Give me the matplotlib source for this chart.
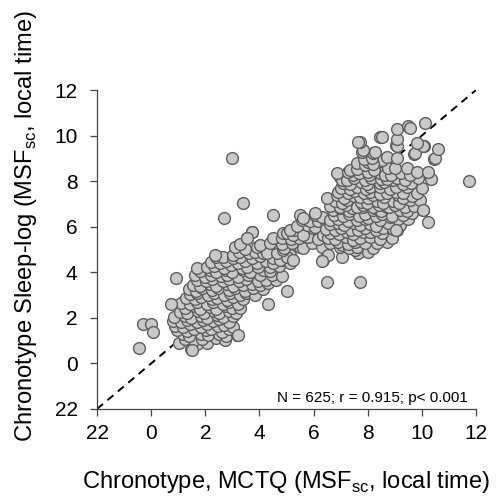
import matplotlib
matplotlib.use("Agg")
import matplotlib.pyplot as plt
import numpy as np

plt.rcParams["font.family"] = ["Liberation Sans", "DejaVu Sans"]
plt.rcParams["mathtext.fontset"] = "custom"
plt.rcParams["mathtext.rm"] = "Liberation Sans"

# (MCTQ chronotype, sleep-log chronotype), hours; 22 h shown as -2
lower_cluster = [
    (1.48, 0.62),
    (1.02, 0.88), (1.68, 0.84), (2.05, 0.90),
    (1.25, 1.08), (1.58, 1.01), (1.88, 1.09), (2.38, 1.12), (2.73, 1.02),
    (1.18, 1.27), (1.41, 1.22), (1.83, 1.31), (2.09, 1.23), (2.51, 1.29), (2.76, 1.20), (3.18, 1.26),
    (0.95, 1.47), (1.33, 1.41), (1.58, 1.52), (2.01, 1.45), (2.22, 1.50), (2.63, 1.40), (2.88, 1.51),
    (0.88, 1.66), (1.19, 1.60), (1.44, 1.71), (1.85, 1.62), (2.05, 1.73), (2.46, 1.65), (2.69, 1.69), (3.04, 1.59),
    (0.82, 1.86), (1.09, 1.80), (1.31, 1.91), (1.69, 1.81), (1.91, 1.89), (2.27, 1.85), (2.51, 1.93), (2.89, 1.82),
    (0.85, 2.04), (1.24, 2.10), (1.49, 2.00), (1.86, 2.09), (2.06, 2.01), (2.43, 2.11), (2.64, 2.02), (3.01, 2.08),
    (1.05, 2.27), (1.34, 2.21), (1.73, 2.30), (1.95, 2.20), (2.33, 2.29), (2.52, 2.22), (2.89, 2.31), (3.13, 2.21),
    (1.25, 2.44), (1.59, 2.50), (1.81, 2.41), (2.18, 2.49), (2.39, 2.40), (2.77, 2.51), (2.98, 2.43), (3.28, 2.42),
    (1.12, 2.66), (1.43, 2.60), (1.68, 2.70), (2.06, 2.61), (2.27, 2.69), (2.64, 2.60), (2.86, 2.70), (3.22, 2.63),
    (1.30, 2.86), (1.62, 2.81), (1.86, 2.90), (2.24, 2.82), (2.45, 2.89), (2.82, 2.80), (3.04, 2.90), (3.38, 2.84),
    (1.45, 3.04), (1.71, 3.10), (2.09, 3.01), (2.31, 3.09), (2.69, 3.00), (2.91, 3.10), (3.29, 3.02), (3.52, 3.09), (3.85, 3.02),
    (1.38, 3.26), (1.66, 3.20), (1.88, 3.29), (2.26, 3.21), (2.48, 3.30), (2.86, 3.22), (3.08, 3.29), (3.45, 3.20), (3.77, 3.30), (4.15, 3.26),
    (1.55, 3.46), (1.81, 3.40), (2.19, 3.49), (2.41, 3.41), (2.79, 3.50), (3.01, 3.42), (3.40, 3.44), (3.72, 3.49), (4.02, 3.44), (4.33, 3.52),
    (1.70, 3.66), (2.04, 3.60), (2.26, 3.69), (2.64, 3.61), (2.86, 3.70), (3.24, 3.62), (3.51, 3.69), (3.93, 3.60), (4.25, 3.68), (4.60, 3.64),
    (1.62, 3.86), (1.99, 3.81), (2.21, 3.90), (2.59, 3.82), (2.81, 3.89), (3.19, 3.81), (3.59, 3.88), (4.02, 3.88), (4.45, 3.88), (4.82, 3.85),
    (1.80, 4.05), (2.16, 4.10), (2.38, 4.01), (2.76, 4.09), (2.98, 4.02), (3.39, 4.10), (3.66, 4.01), (4.13, 4.09), (4.40, 4.04),
    (1.68, 4.20), (2.05, 4.24), (2.31, 4.29), (2.69, 4.20), (2.94, 4.30), (3.34, 4.21), (3.53, 4.24), (3.96, 4.24), (4.39, 4.24), (4.72, 4.27),
    (2.20, 4.46), (2.54, 4.41), (2.78, 4.50), (3.19, 4.42), (3.46, 4.49), (3.90, 4.39), (4.24, 4.48), (4.51, 4.41), (4.88, 4.54), (5.13, 4.39),
    (2.40, 4.66), (2.67, 4.68), (3.04, 4.62), (3.28, 4.69), (3.74, 4.61), (4.01, 4.70), (4.49, 4.62), (4.76, 4.54), (5.13, 4.76), (5.00, 4.68),
    (2.36, 4.76), (3.04, 4.76), (3.25, 4.88), (3.60, 4.84), (3.84, 4.90), (4.14, 4.83), (4.27, 4.83), (4.64, 4.83), (4.88, 4.98),
    (3.10, 5.12), (3.45, 5.04), (3.90, 5.12), (4.02, 5.20), (4.51, 5.27), (4.90, 5.06), (5.25, 4.54), (5.50, 5.12), (5.62, 5.05),
    (3.30, 5.25), (4.39, 5.27), (4.85, 5.22), (5.20, 5.28), (5.93, 5.27), (6.30, 5.12),
    (3.55, 5.52), (4.51, 5.49), (4.85, 5.52), (5.15, 5.46), (5.45, 5.50), (5.80, 5.53), (6.15, 5.47),
    (3.71, 5.77), (4.88, 5.71), (5.00, 5.71), (5.25, 5.63), (5.31, 5.85), (5.62, 5.63), (5.99, 5.93), (6.36, 5.63),
    (5.13, 5.85), (5.75, 6.07), (6.05, 6.00), (5.40, 6.02),
    (5.56, 6.29), (5.85, 6.25), (6.15, 6.27), (6.45, 6.22),
    (5.50, 6.51), (5.62, 6.37), (6.05, 6.51), (6.30, 6.44), (6.05, 6.59),
]

upper_cluster = [
    (6.36, 4.54), (6.55, 4.76), (6.31, 4.51),
    (7.04, 4.68), (7.65, 4.83), (7.53, 4.98), (8.02, 4.90),
    (6.61, 5.42), (6.98, 5.12), (7.04, 5.20), (7.30, 5.08), (7.59, 5.56), (7.60, 5.12), (8.20, 5.08),
    (6.60, 5.30), (6.91, 5.35), (7.28, 5.25), (7.53, 5.34), (7.89, 5.28), (8.33, 5.27), (8.70, 5.32),
    (6.55, 5.52), (6.81, 5.46), (7.19, 5.55), (7.47, 5.42), (7.71, 5.51), (8.08, 5.56), (8.44, 5.46), (8.90, 5.52),
    (6.60, 5.72), (6.94, 5.66), (7.22, 5.78), (7.46, 5.69), (7.84, 5.75), (8.08, 5.78), (8.52, 5.71), (9.07, 5.85),
    (6.45, 5.92), (6.79, 5.86), (7.01, 5.95), (7.39, 5.86), (7.65, 5.85), (7.91, 5.94), (8.29, 5.86), (8.56, 5.96), (8.95, 5.88),
    (6.60, 6.12), (6.89, 6.17), (7.11, 6.06), (7.49, 6.15), (7.71, 6.06), (8.09, 6.14), (8.31, 6.05), (8.74, 6.15), (9.20, 6.08),
    (6.61, 6.29), (6.91, 6.35), (7.29, 6.26), (7.59, 6.29), (7.89, 6.34), (8.02, 6.37), (8.45, 6.29), (8.82, 6.44), (9.11, 6.32), (9.50, 6.34),
    (6.75, 6.52), (7.09, 6.46), (7.31, 6.55), (7.69, 6.45), (7.91, 6.54), (8.29, 6.46), (8.51, 6.55), (8.89, 6.45), (9.30, 6.52), (9.62, 6.59),
    (6.70, 6.72), (6.98, 6.81), (7.30, 6.68), (7.41, 6.81), (7.84, 6.88), (8.20, 6.72), (8.27, 6.81), (8.50, 6.68), (8.70, 6.88), (9.19, 6.73), (9.45, 6.70), (10.04, 6.73),
    (6.62, 6.92), (6.99, 6.86), (7.21, 6.95), (7.59, 6.85), (7.81, 6.97), (8.19, 6.88), (8.41, 6.95), (8.79, 6.85), (9.01, 6.94), (9.39, 6.86), (9.70, 6.93),
    (6.80, 7.12), (7.06, 7.06), (7.22, 7.17), (7.74, 7.10), (7.96, 7.06), (8.34, 7.15), (8.56, 7.06), (8.94, 7.14), (9.16, 7.06), (9.56, 7.17), (9.93, 7.17),
    (6.48, 7.25), (6.85, 7.39), (7.11, 7.26), (7.49, 7.35), (7.72, 7.32), (8.01, 7.25), (8.21, 7.39), (8.61, 7.30), (9.13, 7.39), (9.29, 7.25), (9.64, 7.35),
    (6.90, 7.52), (7.26, 7.46), (7.48, 7.55), (7.86, 7.46), (8.08, 7.54), (8.46, 7.45), (8.70, 7.46), (9.06, 7.54), (9.31, 7.46), (9.81, 7.46),
    (7.00, 7.72), (7.34, 7.66), (7.59, 7.76), (7.94, 7.66), (8.08, 7.76), (8.46, 7.74), (8.84, 7.66), (9.06, 7.74), (9.44, 7.76), (10.00, 7.70),
    (7.10, 7.92), (7.36, 7.86), (7.74, 7.95), (7.96, 7.86), (8.45, 7.90), (8.60, 7.95), (8.94, 8.05), (9.29, 7.88), (9.60, 7.93),
    (6.98, 8.19), (7.04, 8.05), (7.22, 8.05), (7.51, 8.14), (7.89, 8.06), (8.11, 8.15), (8.49, 8.08), (8.71, 8.10), (9.09, 8.14), (9.36, 8.06), (9.85, 8.12), (10.35, 8.10),
    (6.85, 8.34), (7.47, 8.27), (7.66, 8.34), (8.04, 8.26), (8.45, 8.34), (8.64, 8.28), (8.86, 8.25), (9.24, 8.34), (9.55, 8.28),
    (7.28, 8.41), (7.35, 8.49), (7.60, 8.52), (8.02, 8.41), (8.25, 8.48), (8.76, 8.56), (9.01, 8.56), (9.44, 8.56), (9.81, 8.41), (10.24, 8.41),
    (7.59, 8.78), (7.90, 8.72), (8.02, 8.85), (8.52, 8.93), (8.20, 8.75),
    (7.85, 8.97), (8.15, 9.02), (8.70, 9.07), (9.07, 9.00), (10.46, 8.97), (10.49, 9.00),
    (7.78, 9.29), (8.21, 9.22), (8.27, 9.29), (9.72, 9.19), (9.75, 9.22), (7.84, 9.36),
    (9.05, 9.58), (10.08, 9.55), (10.61, 9.41), (10.05, 9.54), (9.07, 9.53), (9.81, 9.66),
    (7.72, 9.73), (7.65, 9.73), (9.07, 9.87),
    (8.45, 9.92), (8.52, 9.95),
    (9.07, 10.27), (9.48, 10.43), (9.56, 10.34), (10.12, 10.56),
]

outliers = [
    (3.00, 9.00), (3.38, 7.03), (2.68, 6.38), (4.49, 6.50),
    (-0.45, 0.68), (-0.29, 1.75), (0.00, 1.74), (0.08, 1.40),
    (0.91, 3.76), (0.73, 2.62), (3.21, 1.23), (1.52, 0.58),
    (5.02, 3.19), (4.32, 2.60), (6.51, 3.59), (7.70, 3.59),
    (10.24, 6.22), (11.74, 8.02), (9.05, 5.85), (10.04, 6.73),
    (3.71, 5.77), (3.55, 5.52),
]

tick_values = [-2, 0, 2, 4, 6, 8, 10, 12]
tick_labels = ["22", "0", "2", "4", "6", "8", "10", "12"]
stats_text = "N = 625; r = 0.915; p< 0.001"

points = np.array(lower_cluster + upper_cluster + outliers)

fig = plt.figure(figsize=(4.99, 5.04), dpi=100)
ax = fig.add_axes([0.1944, 0.1885, 0.7595, 0.6329])

ax.plot([-2, 12], [-2, 12], color="black", linestyle=(0, (4, 3)),
        linewidth=1.4, zorder=1)
ax.scatter(points[:, 0], points[:, 1], s=72, facecolor="#c9c9c9",
           edgecolor="#5e5e5e", linewidth=1.0, zorder=2, clip_on=False)

ax.set_xlim(-2, 12)
ax.set_ylim(-2, 12)
ax.set_xticks(tick_values, tick_labels)
ax.set_yticks(tick_values, tick_labels)
ax.tick_params(labelsize=15, length=5, width=0.9, color="#444444",
               direction="out")
ax.tick_params(axis="x", pad=6)
ax.tick_params(axis="y", pad=9)
for side in ["top", "right"]:
    ax.spines[side].set_visible(False)
for side in ["left", "bottom"]:
    ax.spines[side].set_color("#444444")
    ax.spines[side].set_linewidth(0.9)

ax.text(0.979, 0.012, stats_text, transform=ax.transAxes, ha="right",
        va="bottom", fontsize=11)

fig.text(0.574, 0.044, r"Chronotype, MCTQ (MSF$_{\rm sc}$, local time)",
         ha="center", va="center", fontsize=17)
fig.text(0.052, 0.552, r"Chronotype Sleep-log (MSF$_{\rm sc}$, local time)",
         ha="center", va="center", rotation=90, fontsize=17)

fig.savefig("out.png", dpi=100)
